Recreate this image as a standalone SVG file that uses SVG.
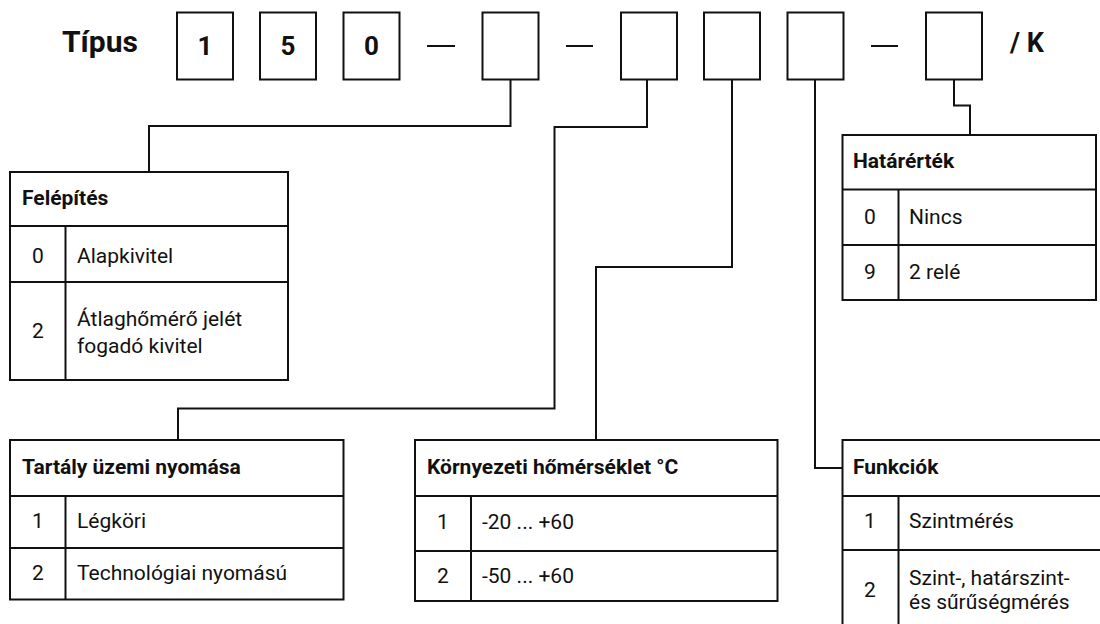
<svg xmlns="http://www.w3.org/2000/svg" width="1100" height="624" viewBox="0 0 1100 624">
<style>
text{font-family:Roboto,"Liberation Sans",Arial,sans-serif;fill:#111}
.big{font-size:30px;font-weight:700}
.dig{font-size:26px;font-weight:700;text-anchor:middle}
.h{font-size:21px;font-weight:700}
.t{font-size:21px}
.c{font-size:21px;text-anchor:middle}
.box{fill:#fff;stroke:#111;stroke-width:2}
.ln{fill:none;stroke:#111;stroke-width:2}
</style>
<rect width="1100" height="624" fill="#fff"/>
<g id="type-code">
<text class="big" x="62" y="52">Típus</text>
<rect class="box" x="177" y="12.5" width="56" height="67"/>
<text class="dig" x="205" y="55">1</text>
<rect class="box" x="260" y="12.5" width="56" height="67"/>
<text class="dig" x="288" y="55">5</text>
<rect class="box" x="343.5" y="12.5" width="56" height="67"/>
<text class="dig" x="371.5" y="55">0</text>
<line class="ln" x1="427" y1="46" x2="455" y2="46"/>
<rect class="box" x="482.5" y="12.5" width="56" height="67"/>
<line class="ln" x1="566" y1="46" x2="593" y2="46"/>
<rect class="box" x="621" y="12.5" width="56" height="67"/>
<rect class="box" x="704" y="12.5" width="56" height="67"/>
<rect class="box" x="787.5" y="12.5" width="56" height="67"/>
<line class="ln" x1="871" y1="46" x2="898" y2="46"/>
<rect class="box" x="926" y="12.5" width="56" height="67"/>
<text class="dig" x="1010" y="52" style="text-anchor:start;font-size:27px">/ K</text>
</g>
<g id="connectors">
<polyline class="ln" points="510.5,79.5 510.5,126 149,126 149,172"/>
<polyline class="ln" points="647,79.5 647,127 554.5,127 554.5,408.5 178,408.5 178,440"/>
<polyline class="ln" points="732,79.5 732,267 596,267 596,440"/>
<polyline class="ln" points="815,79.5 815,468 842,468"/>
<polyline class="ln" points="954,79.5 954,105.5 970,105.5 970,135"/>
</g>
<g id="felepites">
<rect class="box" x="10" y="172" width="278" height="208"/>
<line class="ln" x1="10" y1="226" x2="288" y2="226"/>
<line class="ln" x1="10" y1="282" x2="288" y2="282"/>
<line class="ln" x1="65.5" y1="226" x2="65.5" y2="380"/>
<text class="h" x="22" y="205">Felépítés</text>
<text class="c" x="38" y="263">0</text>
<text class="t" x="77" y="263">Alapkivitel</text>
<text class="c" x="38" y="338">2</text>
<text class="t" x="77" y="326">Átlaghőmérő jelét</text>
<text class="t" x="77" y="353">fogadó kivitel</text>
</g>
<g id="hatarertek">
<rect class="box" x="842.5" y="135" width="253.5" height="165"/>
<line class="ln" x1="842.5" y1="189.5" x2="1096" y2="189.5"/>
<line class="ln" x1="842.5" y1="245" x2="1096" y2="245"/>
<line class="ln" x1="898.5" y1="189.5" x2="898.5" y2="300"/>
<text class="h" x="853" y="168">Határérték</text>
<text class="c" x="870" y="224">0</text>
<text class="t" x="909" y="224">Nincs</text>
<text class="c" x="870" y="279">9</text>
<text class="t" x="909" y="279">2 relé</text>
</g>
<g id="tartaly">
<rect class="box" x="10" y="440" width="333.5" height="159.5"/>
<line class="ln" x1="10" y1="496" x2="343.5" y2="496"/>
<line class="ln" x1="10" y1="548" x2="343.5" y2="548"/>
<line class="ln" x1="65.5" y1="496" x2="65.5" y2="599.5"/>
<text class="h" x="22" y="474">Tartály üzemi nyomása</text>
<text class="c" x="38" y="528">1</text>
<text class="t" x="77" y="528">Légköri</text>
<text class="c" x="38" y="580">2</text>
<text class="t" x="77" y="580">Technológiai nyomású</text>
</g>
<g id="kornyezeti">
<rect class="box" x="415" y="440" width="362.5" height="161"/>
<line class="ln" x1="415" y1="496" x2="777.5" y2="496"/>
<line class="ln" x1="415" y1="551" x2="777.5" y2="551"/>
<line class="ln" x1="471" y1="496" x2="471" y2="601"/>
<text class="h" x="427" y="474">Környezeti hőmérséklet °C</text>
<text class="c" x="443" y="529">1</text>
<text class="t" x="482" y="529">-20 ... +60</text>
<text class="c" x="443" y="583">2</text>
<text class="t" x="482" y="583">-50 ... +60</text>
</g>
<g id="funkciok">
<rect class="box" x="842.5" y="440" width="280" height="210"/>
<line class="ln" x1="842.5" y1="496" x2="1100" y2="496"/>
<line class="ln" x1="842.5" y1="550" x2="1100" y2="550"/>
<line class="ln" x1="898.5" y1="496" x2="898.5" y2="624"/>
<text class="h" x="853" y="474">Funkciók</text>
<text class="c" x="870" y="528">1</text>
<text class="t" x="909" y="528">Szintmérés</text>
<text class="c" x="870" y="597">2</text>
<text class="t" x="909" y="585">Szint-, határszint-</text>
<text class="t" x="909" y="609">és sűrűségmérés</text>
</g>
</svg>
